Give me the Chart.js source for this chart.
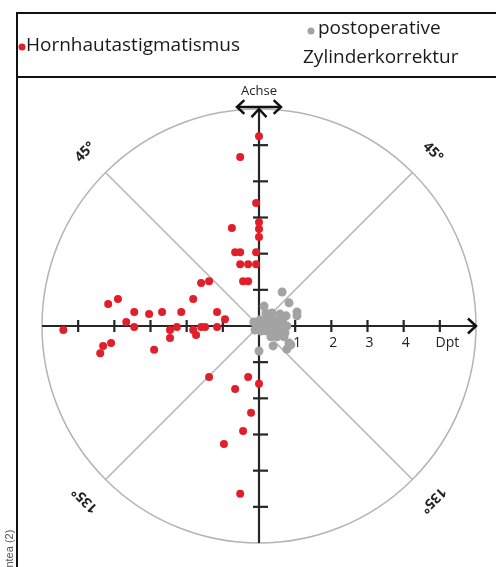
<!DOCTYPE html>
<html>
<head>
<meta charset="utf-8">
<script src="https://cdn.jsdelivr.net/npm/chart.js@4.4.1/dist/chart.umd.min.js"></script>
<style>
  html, body { margin: 0; padding: 0; background: #fff; }
  canvas { display: block; }
</style>
</head>
<body>
<canvas id="astig" width="496" height="567"></canvas>
<script>
// Hornhautastigmatismus (x/y in Dpt, Achse nach oben)
const hornhautPoints = [
  {x: 0, y: 5.25}, {x: -0.52, y: 4.67}, {x: -0.08, y: 3.40}, {x: -0.75, y: 2.71},
  {x: 0, y: 2.87}, {x: 0, y: 2.68}, {x: 0, y: 2.46}, {x: -0.66, y: 2.04},
  {x: -0.52, y: 2.04}, {x: -0.08, y: 2.04}, {x: -0.52, y: 1.71}, {x: -0.30, y: 1.71},
  {x: -0.08, y: 1.71}, {x: -1.60, y: 1.19}, {x: -1.38, y: 1.24}, {x: -0.44, y: 1.24},
  {x: -0.30, y: 1.24},
  {x: -5.41, y: -0.11}, {x: -4.17, y: 0.61}, {x: -3.90, y: 0.75}, {x: -3.45, y: 0.39},
  {x: -3.67, y: 0.11}, {x: -3.45, y: -0.03}, {x: -3.04, y: 0.33}, {x: -2.68, y: 0.39},
  {x: -2.15, y: 0.39}, {x: -1.82, y: 0.75}, {x: -1.16, y: 0.39}, {x: -0.94, y: 0.19},
  {x: -1.16, y: -0.03}, {x: -2.46, y: -0.11}, {x: -2.46, y: -0.33}, {x: -2.27, y: -0.03},
  {x: -1.82, y: -0.11}, {x: -1.74, y: -0.25}, {x: -1.60, y: -0.03}, {x: -1.49, y: -0.03},
  {x: -4.09, y: -0.47}, {x: -4.31, y: -0.55}, {x: -4.39, y: -0.75}, {x: -2.90, y: -0.66},
  {x: -1.38, y: -1.41}, {x: -0.30, y: -1.41}, {x: 0, y: -1.60}, {x: -0.66, y: -1.74},
  {x: -0.22, y: -2.40}, {x: -0.44, y: -2.90}, {x: -0.97, y: -3.26}, {x: -0.52, y: -4.64}
];

// postoperative Zylinderkorrektur
const zylinderPoints = [
  {x: 0.64, y: 0.94}, {x: 0.14, y: 0.55}, {x: 0.83, y: 0.64}, {x: 1.05, y: 0.39},
  {x: 1.05, y: 0.28}, {x: 0.19, y: 0.36}, {x: 0.36, y: 0.36}, {x: 0.58, y: 0.33},
  {x: 0.75, y: 0.28}, {x: 0.03, y: 0.17}, {x: 0.19, y: 0.17}, {x: 0.39, y: 0.17},
  {x: 0.55, y: 0.14}, {x: 0.66, y: 0.17}, {x: -0.06, y: 0.03}, {x: 0.08, y: 0},
  {x: 0.25, y: 0.03}, {x: 0.44, y: 0}, {x: 0.61, y: -0.03}, {x: 0.77, y: 0},
  {x: 0.06, y: -0.14}, {x: 0.22, y: -0.14}, {x: 0.39, y: -0.17}, {x: 0.55, y: -0.14},
  {x: 0.72, y: -0.19}, {x: 0.33, y: -0.30}, {x: 0.50, y: -0.30}, {x: 0.69, y: -0.30},
  {x: 0.83, y: -0.47}, {x: 0.39, y: -0.55}, {x: 0.77, y: -0.64}, {x: 0, y: -0.69},
  {x: 0.88, y: -0.52}, {x: -0.14, y: 0.11}, {x: -0.11, y: -0.11}
];

const tickValues = [1, 2, 3, 4, 5];
const tickLabels = ['1', '2', '3', '4'];
const outerRadius = 6;
const angleLabels = [
  {text: '45°', angle: 135, rot: -45},
  {text: '45°', angle: 45, rot: 45},
  {text: '135°', angle: 225, rot: -135},
  {text: '135°', angle: 315, rot: 135}
];

const RED = '#e31e2b';
const GREY = '#a3a3a3';
const FONT = '"Open Sans", "Noto Sans", sans-serif';

function chevron(ctx, x, y, dx, dy, size) {
  // arrow head pointing in direction (dx, dy)
  const a = Math.atan2(dy, dx);
  ctx.beginPath();
  ctx.moveTo(x - size * Math.cos(a - 0.75), y - size * Math.sin(a - 0.75));
  ctx.lineTo(x, y);
  ctx.lineTo(x - size * Math.cos(a + 0.75), y - size * Math.sin(a + 0.75));
  ctx.stroke();
}

const polarBackground = {
  id: 'polarBackground',
  beforeDatasetsDraw(chart) {
    const ctx = chart.ctx;
    const xs = chart.scales.x, ys = chart.scales.y;
    const cx = xs.getPixelForValue(0), cy = ys.getPixelForValue(0);
    const r = xs.getPixelForValue(outerRadius) - cx;
    ctx.save();

    // circle + diagonals
    ctx.strokeStyle = '#b4b4b4';
    ctx.lineWidth = 1.5;
    ctx.beginPath();
    ctx.arc(cx, cy, r, 0, Math.PI * 2);
    ctx.stroke();
    [45, 135, 225, 315].forEach(deg => {
      const t = deg * Math.PI / 180;
      ctx.beginPath();
      ctx.moveTo(cx, cy);
      ctx.lineTo(xs.getPixelForValue(outerRadius * Math.cos(t)), ys.getPixelForValue(outerRadius * Math.sin(t)));
      ctx.stroke();
    });

    // axes
    ctx.strokeStyle = '#262626';
    ctx.lineWidth = 2.2;
    ctx.beginPath();
    ctx.moveTo(xs.getPixelForValue(-outerRadius), cy);
    ctx.lineTo(xs.getPixelForValue(outerRadius), cy);
    ctx.moveTo(cx, ys.getPixelForValue(-outerRadius));
    ctx.lineTo(cx, ys.getPixelForValue(outerRadius));
    ctx.stroke();

    // ticks
    tickValues.forEach(v => {
      [v, -v].forEach(s => {
        const px = xs.getPixelForValue(s);
        ctx.beginPath();
        ctx.moveTo(px, cy - 6);
        ctx.lineTo(px, cy + 6);
        ctx.stroke();
        const py = ys.getPixelForValue(s);
        ctx.beginPath();
        ctx.moveTo(cx - 6, py);
        ctx.lineTo(cx + 9, py);
        ctx.stroke();
      });
    });

    // arrows
    ctx.strokeStyle = '#111';
    ctx.lineWidth = 2.5;
    const xr = xs.getPixelForValue(outerRadius);
    chevron(ctx, xr, cy, 1, 0, 11);
    const yt = ys.getPixelForValue(outerRadius);
    chevron(ctx, cx, yt, 0, -1, 11);
    ctx.beginPath();
    ctx.moveTo(cx - 22, yt - 2);
    ctx.lineTo(cx + 22, yt - 2);
    ctx.stroke();
    chevron(ctx, cx - 22, yt - 2, -1, 0, 10);
    chevron(ctx, cx + 22, yt - 2, 1, 0, 10);

    // texts
    ctx.fillStyle = '#222';
    ctx.textAlign = 'center';
    ctx.textBaseline = 'middle';
    ctx.font = '13px ' + FONT;
    ctx.fillText('Achse', cx, yt - 18);
    ctx.font = '14px ' + FONT;
    tickLabels.forEach((lab, i) => {
      ctx.fillText(lab, xs.getPixelForValue(tickValues[i]) + 2, cy + 17);
    });
    ctx.fillText('Dpt', xs.getPixelForValue(5.1) + 4, cy + 17);

    ctx.font = 'bold 14px ' + FONT;
    angleLabels.forEach(l => {
      const t = l.angle * Math.PI / 180;
      const lx = xs.getPixelForValue(6.8 * Math.cos(t));
      const ly = ys.getPixelForValue(6.8 * Math.sin(t));
      ctx.save();
      ctx.translate(lx, ly);
      ctx.rotate(l.rot * Math.PI / 180);
      ctx.fillText(l.text, 0, 0);
      ctx.restore();
    });
    ctx.restore();
  },
  afterDraw(chart) {
    const ctx = chart.ctx;
    const ds = chart.data.datasets;
    ctx.save();
    // frame
    ctx.strokeStyle = '#111';
    ctx.lineWidth = 2;
    ctx.beginPath();
    ctx.moveTo(17, 567);
    ctx.lineTo(17, 13);
    ctx.lineTo(496, 13);
    ctx.moveTo(17, 77);
    ctx.lineTo(496, 77);
    ctx.stroke();

    // legend
    ctx.textBaseline = 'middle';
    ctx.textAlign = 'left';
    ctx.font = '19px ' + FONT;
    ctx.fillStyle = ds[0].backgroundColor;
    ctx.beginPath(); ctx.arc(22, 47, 3.5, 0, Math.PI * 2); ctx.fill();
    ctx.fillStyle = '#1a1a1a';
    ctx.fillText(ds[0].label, 26, 46);
    ctx.fillStyle = ds[1].backgroundColor;
    ctx.beginPath(); ctx.arc(311, 31, 3.5, 0, Math.PI * 2); ctx.fill();
    ctx.fillStyle = '#1a1a1a';
    const parts = ds[1].label.split(' ');
    ctx.fillText(parts[0], 318, 29);
    ctx.fillText(parts[1], 303, 58);

    // source
    ctx.font = '11px "Liberation Sans", sans-serif';
    ctx.fillStyle = '#555';
    ctx.translate(10, 567);
    ctx.rotate(-Math.PI / 2);
    ctx.textAlign = 'left';
    ctx.fillText('intea (2)', -3, 0);
    ctx.restore();
  }
};

new Chart(document.getElementById('astig'), {
  type: 'scatter',
  data: {
    datasets: [{
      label: 'Hornhautastigmatismus',
      data: hornhautPoints,
      backgroundColor: RED,
      borderWidth: 0,
      pointRadius: 4
    }, {
      label: 'postoperative Zylinderkorrektur',
      data: zylinderPoints,
      backgroundColor: GREY,
      borderWidth: 0,
      pointRadius: 4.5
    }]
  },
  options: {
    responsive: false,
    animation: false,
    devicePixelRatio: 1,
    layout: { padding: { left: 42, right: 20, top: 109, bottom: 24 } },
    scales: {
      x: { type: 'linear', min: -6, max: 6, display: false },
      y: { type: 'linear', min: -6, max: 6, display: false }
    },
    plugins: {
      legend: { display: false },
      tooltip: { enabled: false }
    },
    elements: { point: { hoverRadius: 4 } },
    clip: false
  },
  plugins: [polarBackground]
});
</script>
</body>
</html>
